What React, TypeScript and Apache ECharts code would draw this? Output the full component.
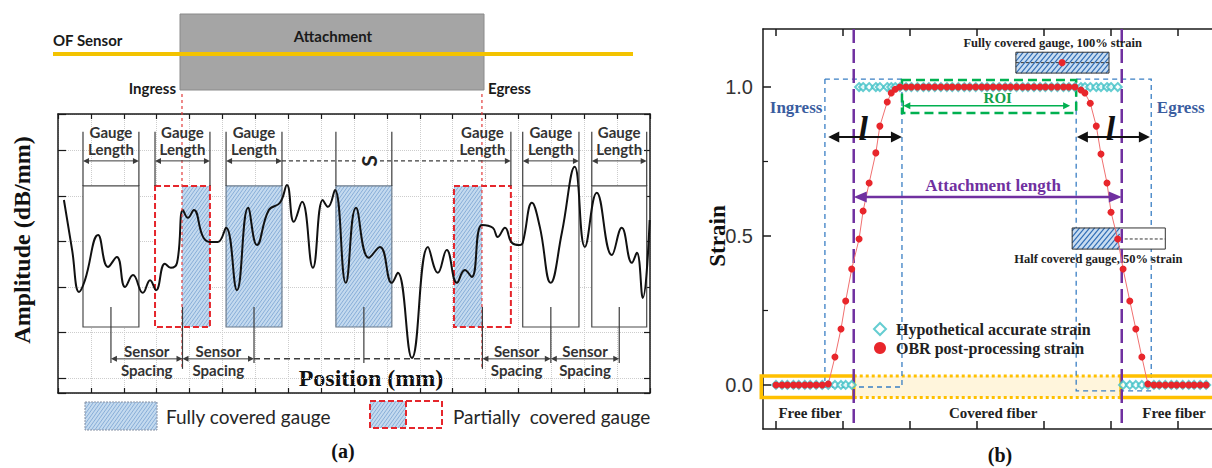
import React, { useEffect, useRef } from "react";
import * as echarts from "echarts";

// ================= Panel (a) data =================
// amplitude trace (x: position units, y: amplitude units)
const ampX = [0.18, 0.43, 0.64, 0.82, 1.22, 1.52, 1.79, 2.04, 2.28, 2.58, 2.80, 2.98, 3.25, 3.43, 3.62, 3.80, 3.95, 4.13, 4.41, 4.62, 4.86, 5.11, 5.44, 5.78, 6.05, 6.41, 6.75, 6.96, 7.17, 7.42, 7.75, 8.05, 8.21, 8.42, 8.75, 9.06, 9.45, 9.79, 10.15, 10.33, 10.76, 11.25, 11.55, 11.82, 12.13, 12.37, 12.58, 12.89, 13.22, 13.37, 13.59, 13.80, 14.04, 14.13, 14.41, 14.65, 14.98, 15.32, 15.71, 16.02, 16.38, 16.84, 17.14, 17.45, 17.60, 17.78, 17.99];
const ampY = [3.91, 2.81, 1.89, 2.15, 3.14, 2.44, 2.66, 2.00, 2.26, 1.87, 2.15, 1.93, 2.51, 2.42, 2.53, 3.69, 3.52, 3.69, 3.10, 2.99, 2.99, 3.30, 1.93, 3.74, 2.92, 3.69, 3.85, 4.24, 3.43, 3.87, 2.42, 3.91, 3.76, 4.13, 2.09, 3.74, 2.64, 2.88, 2.09, 2.31, 0.44, 2.88, 2.31, 2.81, 2.09, 2.37, 2.22, 3.36, 3.30, 3.10, 3.30, 2.97, 2.92, 2.97, 3.85, 3.32, 2.09, 3.19, 4.64, 2.88, 4.07, 2.70, 3.30, 2.53, 2.75, 1.76, 3.47];

// gauges
const gaugeStart = [0.76, 2.95, 5.11, 8.45, 12.04, 14.13, 16.23];
const gaugeEnd = [2.46, 4.62, 6.81, 10.15, 13.77, 15.84, 17.90];
const gaugeCover = ["none", "partial", "full", "full", "partial", "none", "none"];
const gaugeLabelled = [true, true, true, false, true, true, true];
const ingressPos = 3.77;
const egressPos = 12.89;

// ================= Panel (b) data =================
const sampleX = [0.00, 0.09, 0.17, 0.26, 0.34, 0.43, 0.51, 0.60, 0.69,
  0.78, 0.88, 0.97, 1.04, 1.13, 1.24, 1.30, 1.39, 1.49, 1.55, 1.66, 1.72, 1.78, 1.85,
  1.94, 2.02, 2.11, 2.20, 2.28, 2.37, 2.46, 2.55, 2.63, 2.72, 2.81, 2.89, 2.98, 3.07, 3.15, 3.24, 3.33, 3.42, 3.50, 3.59, 3.68, 3.76, 3.85, 3.94, 4.02, 4.11, 4.20, 4.29, 4.37, 4.46,
  4.55, 4.61, 4.69, 4.78, 4.85, 4.94, 5.00, 5.10, 5.18, 5.28, 5.37, 5.46, 5.55,
  5.64, 5.72, 5.81, 5.90, 5.98, 6.07, 6.16, 6.24, 6.33, 6.42];
const obrY = [0, 0, 0, 0, 0, 0, 0, 0, 0,
  0.003, 0.094, 0.188, 0.282, 0.389, 0.49, 0.584, 0.678, 0.779, 0.869, 0.95, 0.98, 0.993, 1.0,
  1.0, 1.0, 1.0, 1.0, 1.0, 1.0, 1.0, 1.0, 1.0, 1.0, 1.0, 1.0, 1.0, 1.0, 1.0, 1.0, 1.0, 1.0, 1.0, 1.0, 1.0, 1.0, 1.0, 1.0, 1.0, 1.0, 1.0, 1.0, 1.0, 1.0,
  0.99, 0.98, 0.946, 0.869, 0.775, 0.678, 0.58, 0.49, 0.389, 0.282, 0.188, 0.094, 0.003,
  0, 0, 0, 0, 0, 0, 0, 0, 0, 0];
const hypY = [0, 0, 0, 0, 0, 0, 0, 0, 0,
  0, 0, 0, 0, 0, 1, 1, 1, 1, 1, 1, 1, 1, 1,
  1, 1, 1, 1, 1, 1, 1, 1, 1, 1, 1, 1, 1, 1, 1, 1, 1, 1, 1, 1, 1, 1, 1, 1, 1, 1, 1, 1, 1, 1,
  1, 1, 1, 1, 1, 1, 1, 1, 0, 0, 0, 0, 0,
  0, 0, 0, 0, 0, 0, 0, 0, 0, 0];
const attachStart = 1.16;
const attachEnd = 5.16;
const strainTicks = [0, 0.5, 1.0];
const strainMinorTicks = [0.25, 0.75];
const posTicksB = [0, 1, 2, 3, 4, 5, 6];

// ================= layout / style =================
const A = { boxTop: 4.22, boxBot: 1.12, bracketTop: 5.41, glArrow: 4.77, glText: 5.22, ssTop: 1.56, ssBot: 0.33, ssArrow: 0.42, ssText1: 0.59, ssText2: 0.18, redTop: 6.24, redBot: 0.2, sPos: 9.43 };
const HATCH_A = { bg: "#c4daef", line: "#88aed8", step: 3.5 };
const HATCH_B = { bg: "#c9ddf1", line: "#2f6db5", step: 5 };
const FONT_CAL_B = "bold 15px Lato";
const serifB = (n: number) => `bold ${n}px "Liberation Serif"`;

const rectShape = (a: number[], b: number[]) => ({
  x: Math.min(a[0], b[0]), y: Math.min(a[1], b[1]),
  width: Math.abs(b[0] - a[0]), height: Math.abs(b[1] - a[1]),
});
const ln = (a: number[], b: number[], stroke: string, lineWidth: number, lineDash?: number[]) => {
  const style: any = { stroke, lineWidth };
  if (lineDash) style.lineDash = lineDash;
  return { type: "line", silent: true, shape: { x1: a[0], y1: a[1], x2: b[0], y2: b[1] }, style };
};
const txt = (p: number[], text: string, font: string, fill: string, align = "left", rotation = 0, extra: any = {}) => ({
  type: "text", silent: true, x: p[0], y: p[1], rotation,
  style: { text, font, fill, align, verticalAlign: "middle", ...extra },
});
function arrow(a: number[], b: number[], color: string, lw: number, hl: number, hw: number, both = true) {
  const dx = b[0] - a[0], dy = b[1] - a[1];
  const L = Math.hypot(dx, dy) || 1;
  const ux = dx / L, uy = dy / L, nx = -uy, ny = ux;
  const a2 = both ? [a[0] + ux * hl * 0.8, a[1] + uy * hl * 0.8] : a;
  const b2 = [b[0] - ux * hl * 0.8, b[1] - uy * hl * 0.8];
  const head = (tip: number[], dxn: number, dyn: number) => ({
    type: "polygon", silent: true,
    shape: { points: [[tip[0], tip[1]], [tip[0] - dxn * hl + nx * hw, tip[1] - dyn * hl + ny * hw], [tip[0] - dxn * hl - nx * hw, tip[1] - dyn * hl - ny * hw]] },
    style: { fill: color },
  });
  const els: any[] = [ln(a2, b2, color, lw), head(b, ux, uy)];
  if (both) els.push(head(a, -ux, -uy));
  return els;
}
function hatch(r: any, step: number, color: string, lw: number, k = 1.4) {
  const out: any[] = [];
  const x0 = r.x, x1 = r.x + r.width, y0 = r.y, y1 = r.y + r.height;
  const cMin = y0 + k * x0, cMax = y1 + k * x1, dc = step * k;
  for (let c = cMin + dc / 2; c < cMax; c += dc) {
    const xa = Math.max(x0, (c - y1) / k);
    const xb = Math.min(x1, (c - y0) / k);
    if (xb - xa > 0.3) out.push({ type: "line", silent: true, shape: { x1: xa, y1: c - k * xa, x2: xb, y2: c - k * xb }, style: { stroke: color, lineWidth: lw } });
  }
  return out;
}

// ================= render functions =================
function renderGauges(params: any, api: any) {
  const i = params.dataIndex;
  const s = gaugeStart[i], e = gaugeEnd[i], cover = gaugeCover[i];
  const r = rectShape(api.coord([s, A.boxTop]), api.coord([e, A.boxBot]));
  const ch: any[] = [{ type: "rect", silent: true, shape: { ...r }, style: { fill: "#ffffff" } }];
  if (cover !== "none") {
    const hs = Math.max(s, ingressPos), he = Math.min(e, egressPos);
    const hr = rectShape(api.coord([hs, A.boxTop]), api.coord([he, A.boxBot]));
    ch.push({ type: "rect", silent: true, shape: { ...hr }, style: { fill: HATCH_A.bg } });
    ch.push(...hatch(hr, HATCH_A.step, HATCH_A.line, 1));
  }
  if (cover === "partial") {
    ch.push({ type: "rect", silent: true, shape: { ...r }, style: { fill: "none", stroke: "#e5262c", lineWidth: 2, lineDash: [6, 3] } });
  } else {
    ch.push({ type: "rect", silent: true, shape: { ...r }, style: { fill: "none", stroke: cover === "full" ? "#6b7b8c" : "#4a4a4a", lineWidth: 1.2 } });
  }
  return { type: "group", children: ch };
}

function renderAnnotA(_params: any, api: any) {
  const P = (x: number, y: number) => api.coord([x, y]);
  const ch: any[] = [];
  const grey = "#3c3c3c";
  const centers = gaugeStart.map((s, i) => (s + gaugeEnd[i]) / 2);
  [ingressPos, egressPos].forEach((x) => ch.push(ln(P(x, A.redTop), P(x, A.redBot), "#e23b3b", 1.2, [3, 3])));
  gaugeStart.forEach((s, i) => {
    const e = gaugeEnd[i];
    if (i !== 4) ch.push(ln(P(s, A.boxTop), P(s, A.bracketTop), grey, 1.2));
    ch.push(ln(P(e, A.boxTop), P(e, A.bracketTop), grey, 1.2));
    if (gaugeLabelled[i]) {
      const from = i === 4 ? egressPos : s;
      ch.push(...arrow(P(from, A.glArrow), P(e, A.glArrow), grey, 1, 6, 3, i !== 4));
      ch.push(txt(P((s + e) / 2, A.glText), "Gauge\nLength", FONT_CAL_B, "#333", "center", 0, { lineHeight: 17 }));
    }
    const partial = gaugeCover[i] === "partial";
    ch.push(ln(P(centers[i], A.ssTop), P(centers[i], partial ? A.redBot : A.ssBot), grey, 1.2));
  });
  // gauge spacing "S"
  ch.push(ln(P(gaugeEnd[2], A.glArrow), P(egressPos, A.glArrow), grey, 1.2, [4, 3]));
  ch.push(txt(P(A.sPos, A.glArrow), "S", "bold 21px Lato", "#222", "center", Math.PI / 2, { backgroundColor: "#fff", padding: [0, 2] }));
  // sensor spacing
  [[0, 1], [1, 2], [4, 5], [5, 6]].forEach(([a, b]) => {
    ch.push(...arrow(P(centers[a], A.ssArrow), P(centers[b], A.ssArrow), grey, 1, 6, 3, true));
    const m = (centers[a] + centers[b]) / 2;
    ch.push(txt(P(m, A.ssText1), "Sensor", FONT_CAL_B, "#333", "center"));
    ch.push(txt(P(m, A.ssText2), "Spacing", FONT_CAL_B, "#333", "center"));
  });
  ch.push(ln(P(centers[2], A.ssArrow), P(centers[4], A.ssArrow), grey, 1.5, [6, 4]));
  return { type: "group", children: ch };
}

function renderBgB(_params: any, api: any) {
  const P = (x: number, y: number) => api.coord([x, y]);
  const ch: any[] = [];
  const bandTop = 0.030, bandBot = -0.042;
  ch.push({ type: "rect", silent: true, shape: rectShape(P(attachStart, bandTop), P(attachEnd, bandBot)), style: { fill: "#fff5dc" } });
  ch.push(ln(P(attachStart, bandTop), P(attachEnd, bandTop), "#ffc000", 3, [3, 3]));
  ch.push(ln(P(attachStart, bandBot), P(attachEnd, bandBot), "#ffc000", 3, [3, 3]));
  const blueDash = { fill: "none", stroke: "#3a7fc4", lineWidth: 1.3, lineDash: [5, 4] };
  ch.push({ type: "rect", silent: true, shape: rectShape(P(0.73, 1.027), P(1.88, -0.007)), style: { ...blueDash } });
  ch.push({ type: "rect", silent: true, shape: rectShape(P(4.48, 1.027), P(5.60, -0.02)), style: { ...blueDash } });
  ch.push({ type: "rect", silent: true, shape: rectShape(P(1.88, 1.024), P(4.48, 0.913)), style: { fill: "none", stroke: "#00b050", lineWidth: 2.5, lineDash: [9, 5] } });
  // fully covered gauge symbol
  const g1 = rectShape(P(3.58, 1.117), P(4.97, 1.047));
  ch.push({ type: "rect", silent: true, shape: { ...g1 }, style: { fill: HATCH_B.bg } });
  ch.push(...hatch(g1, HATCH_B.step, HATCH_B.line, 1.2, 1.2));
  ch.push({ type: "rect", silent: true, shape: { ...g1 }, style: { fill: "none", stroke: "#333", lineWidth: 1 } });
  ch.push(ln(P(3.58, 1.082), P(4.97, 1.082), "#333", 1, [3, 2]));
  const dot = P(4.27, 1.082);
  ch.push({ type: "circle", silent: true, shape: { cx: dot[0], cy: dot[1], r: 3.5 }, style: { fill: "#e8262b" } });
  // half covered gauge symbol
  const g2 = rectShape(P(4.42, 0.527), P(5.81, 0.456));
  const g2h = rectShape(P(4.42, 0.527), P(5.13, 0.456));
  ch.push({ type: "rect", silent: true, shape: { ...g2 }, style: { fill: "#fff" } });
  ch.push({ type: "rect", silent: true, shape: { ...g2h }, style: { fill: HATCH_B.bg } });
  ch.push(...hatch(g2h, HATCH_B.step, HATCH_B.line, 1.2, 1.2));
  ch.push({ type: "rect", silent: true, shape: { ...g2 }, style: { fill: "none", stroke: "#333", lineWidth: 1 } });
  ch.push(ln(P(5.13, 0.49), P(5.81, 0.49), "#333", 1, [3, 2]));
  // free fiber boxes
  ch.push({ type: "rect", silent: true, shape: rectShape(P(-0.22, bandTop), P(attachStart, bandBot)), style: { fill: "none", stroke: "#ffc000", lineWidth: 3.5 } });
  ch.push({ type: "rect", silent: true, shape: rectShape(P(5.15, bandTop), P(6.56, bandBot)), style: { fill: "none", stroke: "#ffc000", lineWidth: 3.5 } });
  // attachment boundaries
  [attachStart, attachEnd].forEach((x) => ch.push(ln(P(x, 1.195), P(x, -0.148), "#7030a0", 2.5, [14, 6])));
  return { type: "group", children: ch };
}

function renderAnnotB(_params: any, api: any) {
  const P = (x: number, y: number) => api.coord([x, y]);
  const ch: any[] = [];
  const green = "#00b050", purple = "#7030a0", black = "#111", blue = "#3a5da0";
  ch.push(...arrow(P(1.90, 0.937), P(4.39, 0.937), green, 1.5, 7, 3.5, true));
  ch.push(ln(P(1.90, 0.955), P(1.90, 0.913), green, 1.5));
  ch.push(txt(P(3.31, 0.962), "ROI", serifB(15), "#14a04a", "center"));
  ch.push(...arrow(P(0.78, 0.832), P(1.88, 0.832), black, 2, 11, 5.5, true));
  ch.push(...arrow(P(4.49, 0.832), P(5.58, 0.832), black, 2, 11, 5.5, true));
  ch.push(txt(P(1.30, 0.862), "l", 'italic bold 34px "Liberation Serif"', black, "center"));
  ch.push(txt(P(4.99, 0.862), "l", 'italic bold 34px "Liberation Serif"', black, "center"));
  ch.push(txt(P(0.30, 0.933), "Ingress", serifB(17), blue, "center"));
  ch.push(txt(P(6.04, 0.933), "Egress", serifB(17), blue, "center"));
  ch.push(...arrow(P(attachStart, 0.631), P(attachEnd, 0.631), purple, 2.5, 13, 5.5, true));
  ch.push(txt(P(3.24, 0.671), "Attachment length", serifB(17), purple, "center"));
  ch.push(txt(P(4.13, 1.148), "Fully covered gauge, 100% strain", serifB(12.5), "#222", "center"));
  ch.push(txt(P(4.81, 0.423), "Half covered gauge, 50% strain", serifB(12.5), "#222", "center"));
  ch.push(txt(P(0.51, -0.094), "Free fiber", serifB(15), "#222", "center"));
  ch.push(txt(P(5.94, -0.094), "Free fiber", serifB(15), "#222", "center"));
  ch.push(txt(P(3.24, -0.094), "Covered fiber", serifB(15), "#222", "center"));
  return { type: "group", children: ch };
}

function buildOption() {
  const axisLine = { onZero: false, lineStyle: { color: "#1a1a1a", width: 1.5 } };
  const tickA = { inside: true, length: 5, lineStyle: { color: "#1a1a1a", width: 1.2 } };
  const dotted = { show: true, lineStyle: { color: "#cdcdcd", type: "dotted", width: 1 } };

  const legRect1 = { x: 85, y: 402, width: 72, height: 28 };
  const legRect2 = { x: 370, y: 401, width: 72, height: 27 };
  const legHatch2 = { x: 370, y: 401, width: 36, height: 27 };

  const graphicEls: any[] = [
    { type: "rect", shape: { x: 180, y: 14, width: 304, height: 76 }, style: { fill: "#a5a5a5", stroke: "#8a8a8a", lineWidth: 1 } },
    { type: "line", shape: { x1: 53, y1: 54, x2: 633, y2: 54 }, style: { stroke: "#f3c300", lineWidth: 4 } },
    { type: "text", x: 53, y: 40, style: { text: "OF Sensor", font: "bold 15px Lato", fill: "#1a1a1a", align: "left", verticalAlign: "middle" } },
    { type: "text", x: 333, y: 36, style: { text: "Attachment", font: "bold 15px Lato", fill: "#1a1a1a", align: "center", verticalAlign: "middle" } },
    { type: "text", x: 176, y: 88, style: { text: "Ingress", font: "bold 15px Lato", fill: "#1a1a1a", align: "right", verticalAlign: "middle" } },
    { type: "text", x: 488, y: 88, style: { text: "Egress", font: "bold 15px Lato", fill: "#1a1a1a", align: "left", verticalAlign: "middle" } },
    { type: "text", x: 22, y: 240, rotation: Math.PI / 2, style: { text: "Amplitude (dB/mm)", font: serifB(24), fill: "#111", align: "center", verticalAlign: "middle" } },
    { type: "text", x: 371, y: 378, style: { text: "Position (mm)", font: serifB(24), fill: "#111", align: "center", verticalAlign: "middle" } },
    { type: "text", x: 717, y: 236, rotation: Math.PI / 2, style: { text: "Strain", font: serifB(23), fill: "#111", align: "center", verticalAlign: "middle" } },
    { type: "text", x: 343, y: 451, style: { text: "(a)", font: serifB(20), fill: "#111", align: "center", verticalAlign: "middle" } },
    { type: "text", x: 1000, y: 455, style: { text: "(b)", font: serifB(20), fill: "#111", align: "center", verticalAlign: "middle" } },
    // legend of (a)
    { type: "rect", shape: { ...legRect1 }, style: { fill: HATCH_A.bg } },
    ...hatch(legRect1, HATCH_A.step, HATCH_A.line, 1),
    { type: "rect", shape: { ...legRect1 }, style: { fill: "none", stroke: "#8a94a6", lineWidth: 1, lineDash: [2, 1] } },
    { type: "text", x: 166, y: 416, style: { text: "Fully covered gauge", font: "19px Lato", fill: "#262626", align: "left", verticalAlign: "middle" } },
    { type: "rect", shape: { ...legHatch2 }, style: { fill: HATCH_A.bg } },
    ...hatch(legHatch2, HATCH_A.step, HATCH_A.line, 1),
    { type: "rect", shape: { ...legRect2 }, style: { fill: "none", stroke: "#e5262c", lineWidth: 2, lineDash: [6, 3] } },
    { type: "line", shape: { x1: 406, y1: 401, x2: 406, y2: 428 }, style: { stroke: "#e5262c", lineWidth: 2, lineDash: [6, 3] } },
    { type: "text", x: 453, y: 416, style: { text: "Partially  covered gauge", font: "19px Lato", fill: "#262626", align: "left", verticalAlign: "middle" } },
  ];

  return {
    animation: false,
    backgroundColor: "#ffffff",
    textStyle: { fontFamily: "Liberation Sans" },
    grid: [
      { left: 58, top: 114, width: 592, height: 279 },
      { left: 763, top: 29, width: 449, height: 400 },
    ],
    xAxis: [
      { gridIndex: 0, type: "value", position: "bottom", min: 0, max: 18, interval: 1, axisLine, axisTick: tickA, axisLabel: { show: false }, splitLine: dotted },
      { gridIndex: 0, type: "value", position: "top", min: 0, max: 18, interval: 1, axisLine, axisTick: tickA, axisLabel: { show: false }, splitLine: { show: false } },
      { gridIndex: 1, type: "value", position: "bottom", min: -0.194, max: 6.507, splitNumber: 7, axisLine, axisTick: { inside: true, length: 8, customValues: posTicksB, lineStyle: { color: "#1a1a1a", width: 1.5 } }, axisLabel: { show: false }, splitLine: { show: false } },
      { gridIndex: 1, type: "value", position: "top", min: -0.194, max: 6.507, splitNumber: 7, axisLine, axisTick: { inside: true, length: 7, customValues: posTicksB, lineStyle: { color: "#1a1a1a", width: 1.5 } }, axisLabel: { show: false }, splitLine: { show: false } },
    ],
    yAxis: [
      { gridIndex: 0, type: "value", position: "left", min: -0.33, max: 5.80, splitNumber: 5, axisLine, axisTick: { ...tickA, length: 8 }, axisLabel: { show: false }, splitLine: dotted },
      { gridIndex: 0, type: "value", position: "right", min: -0.33, max: 5.80, splitNumber: 5, axisLine, axisTick: { ...tickA, length: 6 }, axisLabel: { show: false }, splitLine: { show: false } },
      {
        gridIndex: 1, type: "value", position: "left", min: -0.148, max: 1.195, splitNumber: 3, axisLine,
        axisTick: { inside: true, length: 8, customValues: strainTicks, lineStyle: { color: "#1a1a1a", width: 1.5 } },
        axisLabel: { customValues: strainTicks, formatter: (v: number) => v.toFixed(1), fontSize: 20, color: "#333", margin: 10, fontFamily: "Liberation Sans" },
        splitLine: { show: false },
      },
      {
        gridIndex: 1, type: "value", position: "left", min: -0.148, max: 1.195, splitNumber: 3,
        axisLine: { show: false, onZero: false },
        axisTick: { inside: true, length: 5, customValues: strainMinorTicks, lineStyle: { color: "#1a1a1a", width: 1.2 } },
        axisLabel: { show: false }, splitLine: { show: false },
      },
    ],
    legend: {
      data: [
        { name: "Hypothetical accurate strain", icon: "emptyDiamond" },
        { name: "OBR post-processing strain", icon: "circle" },
      ],
      orient: "vertical", left: 873, top: 321, padding: 0, itemWidth: 12, itemHeight: 12, itemGap: 3, selectedMode: false,
      textStyle: { fontFamily: "Liberation Serif", fontWeight: "bold", fontSize: 16, color: "#222", padding: [0, 0, 0, 5] },
    },
    graphic: { elements: graphicEls },
    series: [
      { type: "custom", name: "gauges", xAxisIndex: 0, yAxisIndex: 0, z: 2, clip: false, silent: true, data: gaugeStart.map((s, i) => [s, gaugeEnd[i]]), renderItem: renderGauges },
      { type: "line", name: "amplitude", xAxisIndex: 0, yAxisIndex: 0, z: 3, silent: true, data: ampX.map((x, i) => [x, ampY[i]]), smooth: 0.45, symbol: "none", showSymbol: false, lineStyle: { color: "#111", width: 2 } },
      { type: "custom", name: "annotA", xAxisIndex: 0, yAxisIndex: 0, z: 4, clip: false, silent: true, data: [[0, 0]], renderItem: renderAnnotA },
      { type: "custom", name: "bgB", xAxisIndex: 2, yAxisIndex: 2, z: 1, clip: false, silent: true, data: [[0, 0]], renderItem: renderBgB },
      { type: "scatter", name: "Hypothetical accurate strain", xAxisIndex: 2, yAxisIndex: 2, z: 3, silent: true, data: sampleX.map((x, i) => [x, hypY[i]]), symbol: "emptyDiamond", symbolSize: 8, itemStyle: { color: "#3ec1c6", borderWidth: 1.5 } },
      { type: "line", name: "OBR post-processing strain", xAxisIndex: 2, yAxisIndex: 2, z: 4, silent: true, data: sampleX.map((x, i) => [x, obrY[i]]), symbol: "circle", symbolSize: 7, showSymbol: true, lineStyle: { color: "#f07070", width: 1 }, itemStyle: { color: "#e8262b" } },
      { type: "custom", name: "annotB", xAxisIndex: 2, yAxisIndex: 2, z: 5, clip: false, silent: true, data: [[0, 0]], renderItem: renderAnnotB },
    ],
  };
}

export default function App() {
  const ref = useRef<HTMLDivElement>(null);
  useEffect(() => {
    if (!ref.current) return;
    const chart = echarts.init(ref.current, null, { renderer: "svg" });
    chart.setOption(buildOption() as any);
    return () => chart.dispose();
  }, []);
  return <div ref={ref} style={{ position: "fixed", left: 0, top: 0, width: 1212, height: 468, background: "#fff" }} />;
}
